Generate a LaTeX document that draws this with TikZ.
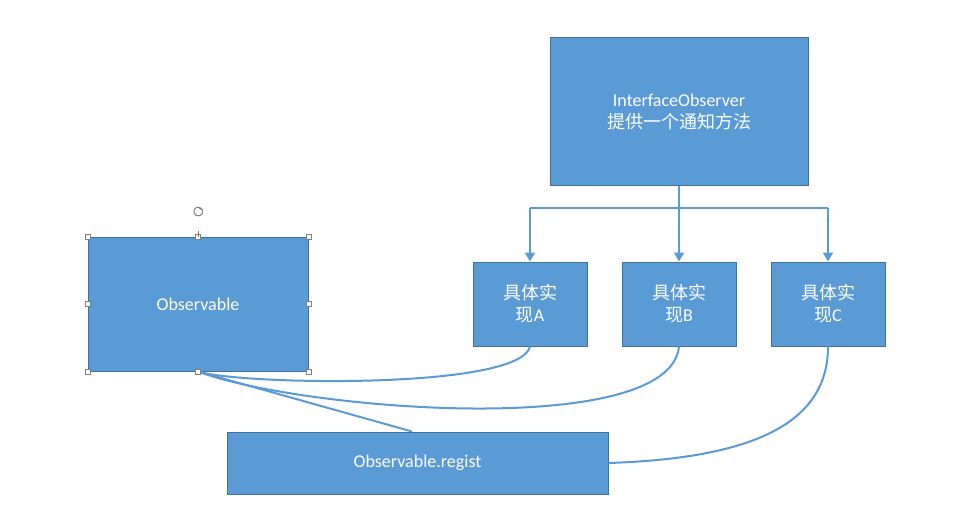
\documentclass[tikz,border=0pt]{standalone}
\usepackage{fontspec}
\setmainfont{Carlito}
\newfontfamily\cjk{Noto Sans CJK SC}
\usetikzlibrary{arrows.meta}
\definecolor{bl}{HTML}{5B9BD5}
\definecolor{bd}{HTML}{41719C}
\begin{document}
\begin{tikzpicture}[x=1pt,y=-1pt,
  box/.style={draw=bd,line width=1pt,fill=bl,text=white,font=\fontsize{18}{22}\selectfont,align=center,inner sep=0pt},
  ln/.style={draw=bl,line width=2pt},
  arr/.style={ln,-{Triangle[length=9pt,width=10pt]}},
  hd/.style={draw=gray,fill=white,line width=0.5pt,minimum size=5pt,inner sep=0pt}]
\useasboundingbox (0,0) rectangle (965,529);
\node[box,minimum width=258pt,minimum height=148pt] (io) at (679,112) {InterfaceObserver\\{\cjk 提供一个通知方法}};
\node[box,minimum width=114pt,minimum height=84pt] (a) at (530,304) {{\cjk 具体实}\\{\cjk 现}A};
\node[box,minimum width=114pt,minimum height=84pt] (b) at (679,304) {{\cjk 具体实}\\{\cjk 现}B};
\node[box,minimum width=114pt,minimum height=84pt] (c) at (828,304) {{\cjk 具体实}\\{\cjk 现}C};
\node[box,minimum width=220pt,minimum height=134pt] (o) at (198,304) {Observable};
\node[box,minimum width=381pt,minimum height=62pt] (r) at (417.5,463) {Observable.regist};
\coordinate (j) at (679,208);
\draw[ln] (io.south) -- (j);
\draw[ln] (a.north |- j) -- (c.north |- j);
\draw[arr] (a.north |- j) -- (a.north);
\draw[arr] (j) -- (b.north);
\draw[arr] (c.north |- j) -- (c.north);
\draw[ln] (o.south) .. controls (240,385) and (520,390) .. (a.south);
\draw[ln] (o.south) .. controls (300,410) and (670,440) .. (b.south);
\draw[ln] (o.south) -- (r.north -| 412,0);
\draw[ln] (r.east) .. controls (760,458) and (828,420) .. (c.south);
\foreach \p in {north west,north,north east,west,east,south west,south,south east}
  \node[hd] at (o.\p) {};
\draw[gray,line width=0.7pt] (198,231) -- (o.north);
\draw[gray,line width=1pt] (202.5,210) arc (-20:300:4.5);
\draw[gray,line width=1pt,-{Stealth[length=3pt]}] (199,208) -- (203,210);
\end{tikzpicture}
\end{document}
